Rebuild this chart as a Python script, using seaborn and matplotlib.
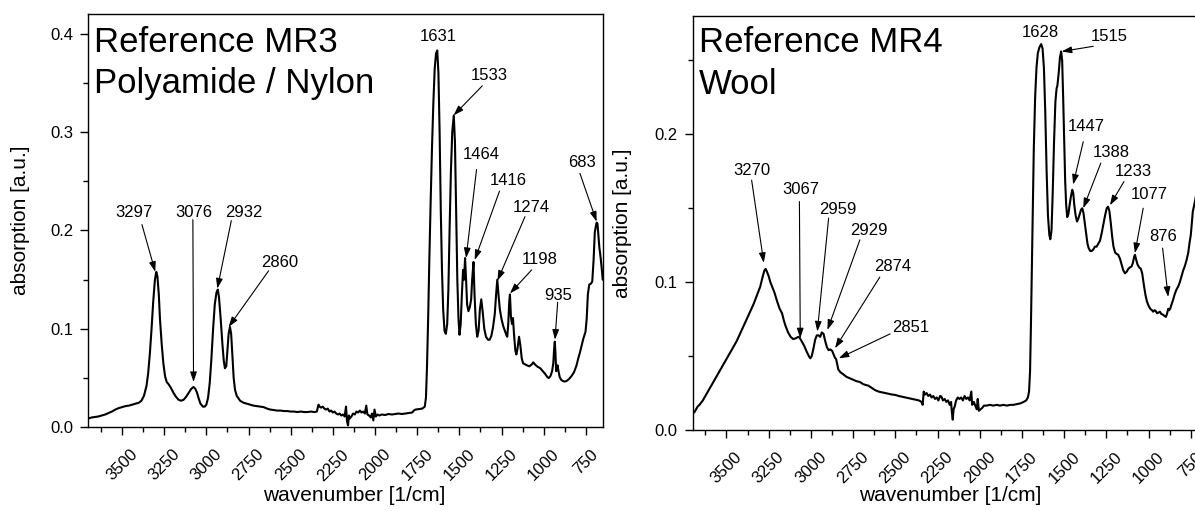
import numpy as np
import pandas as pd
import matplotlib
matplotlib.use("Agg")
import matplotlib.pyplot as plt
import seaborn as sns
from matplotlib.ticker import MultipleLocator

# ---------------- data ----------------
nylon_wn = [3700, 3680, 3660, 3640, 3620, 3600, 3580, 3560, 3540, 3520, 3500, 3480, 3460, 3440, 3420, 3400,
            3385, 3370, 3355, 3345, 3335, 3325, 3315, 3305, 3297, 3290, 3282, 3275, 3265, 3255, 3245, 3235,
            3225, 3210, 3195, 3180, 3165, 3150, 3135, 3120, 3105, 3090, 3076, 3065, 3055, 3045, 3035, 3020,
            3010, 3000, 2990, 2980, 2970, 2960, 2950, 2940, 2932, 2925, 2915, 2905, 2897, 2890, 2882, 2875,
            2868, 2860, 2853, 2845, 2838, 2830, 2820, 2800, 2780, 2760, 2740, 2720, 2700, 2680, 2660, 2640,
            2620, 2600, 2580, 2560, 2540, 2520, 2500, 2480, 2460, 2440, 2420, 2400, 2380, 2360, 2345, 2335,
            2328, 2320, 2310, 2300, 2290, 2280, 2270, 2260, 2250, 2240, 2230, 2220, 2210, 2200, 2190, 2180,
            2172, 2166, 2160, 2155, 2150, 2140, 2130, 2120, 2110, 2100, 2090, 2080, 2070, 2060, 2052, 2045,
            2035, 2025, 2018, 2010, 2003, 1995, 1985, 1975, 1960, 1940, 1920, 1900, 1880, 1860, 1840, 1820,
            1800, 1780, 1770, 1760, 1740, 1720, 1705, 1698, 1692, 1685, 1678, 1670, 1662, 1654, 1646, 1638,
            1631, 1624, 1617, 1610, 1603, 1596, 1588, 1580, 1572, 1565, 1558, 1550, 1542, 1533, 1526, 1519,
            1512, 1505, 1499, 1492, 1485, 1478, 1472, 1466, 1460, 1454, 1446, 1438, 1430, 1424, 1416, 1410,
            1402, 1394, 1386, 1378, 1370, 1362, 1352, 1342, 1330, 1320, 1310, 1300, 1290, 1282, 1275, 1268,
            1260, 1250, 1240, 1230, 1222, 1216, 1210, 1204, 1200, 1194, 1188, 1182, 1176, 1168, 1162, 1155,
            1146, 1138, 1130, 1122, 1110, 1100, 1085, 1070, 1062, 1052, 1040, 1030, 1020, 1005, 990, 978,
            970, 960, 950, 943, 938, 934, 930, 926, 922, 918, 913, 905, 895, 885, 875, 865,
            850, 835, 820, 805, 795, 785, 775, 765, 752, 745, 738, 730, 720, 712, 704, 697,
            690, 686, 681, 676, 670, 662, 655, 650]
nylon_abs = [0.009, 0.010, 0.0105, 0.011, 0.012, 0.013, 0.0145, 0.016, 0.018, 0.0195, 0.0205, 0.0215, 0.022, 0.023, 0.024, 0.025,
             0.027, 0.032, 0.042, 0.055, 0.075, 0.100, 0.128, 0.150, 0.158, 0.153, 0.135, 0.110, 0.085, 0.065, 0.052, 0.046,
             0.044, 0.040, 0.035, 0.031, 0.028, 0.027, 0.028, 0.031, 0.035, 0.039, 0.041, 0.039, 0.035, 0.029, 0.024, 0.021,
             0.021, 0.023, 0.030, 0.045, 0.070, 0.100, 0.125, 0.137, 0.140, 0.132, 0.110, 0.085, 0.068, 0.060, 0.062, 0.078,
             0.095, 0.102, 0.095, 0.070, 0.050, 0.038, 0.032, 0.027, 0.025, 0.024, 0.023, 0.022, 0.0215, 0.021, 0.0205, 0.019,
             0.018, 0.0175, 0.017, 0.017, 0.0165, 0.0165, 0.016, 0.016, 0.0155, 0.016, 0.0155, 0.0155, 0.016, 0.0155, 0.016, 0.023,
             0.021, 0.020, 0.021, 0.019, 0.018, 0.019, 0.016, 0.017, 0.015, 0.016, 0.014, 0.013, 0.014, 0.012, 0.013, 0.011,
             0.021, 0.006, 0.002, 0.012, 0.009, 0.011, 0.014, 0.013, 0.016, 0.015, 0.017, 0.015, 0.016, 0.014, 0.022, 0.013,
             0.012, 0.010, 0.014, 0.007, 0.018, 0.011, 0.013, 0.012, 0.013, 0.0125, 0.0135, 0.013, 0.0135, 0.014, 0.0135, 0.014,
             0.0145, 0.015, 0.017, 0.018, 0.0185, 0.019, 0.021, 0.030, 0.060, 0.110, 0.170, 0.230, 0.285, 0.330, 0.365, 0.380,
             0.383, 0.360, 0.300, 0.220, 0.160, 0.120, 0.098, 0.095, 0.105, 0.140, 0.200, 0.260, 0.300, 0.317, 0.290, 0.220,
             0.150, 0.110, 0.094, 0.105, 0.135, 0.160, 0.150, 0.172, 0.150, 0.125, 0.118, 0.122, 0.130, 0.150, 0.168, 0.135,
             0.105, 0.092, 0.098, 0.120, 0.130, 0.118, 0.100, 0.092, 0.089, 0.089, 0.093, 0.102, 0.115, 0.135, 0.150, 0.135,
             0.120, 0.110, 0.103, 0.098, 0.094, 0.092, 0.105, 0.128, 0.135, 0.112, 0.105, 0.111, 0.095, 0.078, 0.074, 0.080,
             0.092, 0.083, 0.070, 0.065, 0.064, 0.063, 0.062, 0.064, 0.066, 0.064, 0.062, 0.061, 0.060, 0.057, 0.054, 0.051,
             0.050, 0.052, 0.057, 0.065, 0.080, 0.087, 0.075, 0.057, 0.058, 0.063, 0.058, 0.051, 0.048, 0.047, 0.0465, 0.047,
             0.049, 0.052, 0.056, 0.063, 0.070, 0.076, 0.083, 0.090, 0.097, 0.110, 0.135, 0.145, 0.146, 0.148, 0.170, 0.198,
             0.205, 0.208, 0.207, 0.196, 0.183, 0.172, 0.160, 0.150]

wool_wn = [3700, 3690, 3680, 3670, 3660, 3640, 3620, 3600, 3580, 3560, 3540, 3520, 3500, 3480, 3460, 3440,
           3420, 3400, 3380, 3360, 3340, 3320, 3300, 3285, 3275, 3268, 3260, 3250, 3240, 3230, 3216, 3200,
           3185, 3171, 3160, 3149, 3135, 3120, 3105, 3090, 3075, 3067, 3055, 3040, 3025, 3010, 3003, 2995,
           2985, 2975, 2965, 2955, 2945, 2935, 2925, 2915, 2905, 2895, 2885, 2874, 2865, 2858, 2851, 2845,
           2838, 2825, 2812, 2790, 2770, 2750, 2730, 2710, 2690, 2677, 2660, 2640, 2620, 2600, 2580, 2560,
           2540, 2520, 2500, 2480, 2460, 2440, 2420, 2400, 2380, 2360, 2345, 2338, 2332, 2325, 2315, 2305,
           2295, 2285, 2275, 2265, 2255, 2245, 2235, 2227, 2218, 2208, 2198, 2188, 2178, 2170, 2165, 2160,
           2155, 2148, 2140, 2130, 2120, 2110, 2100, 2090, 2080, 2070, 2060, 2050, 2045, 2035, 2025, 2018,
           2012, 2005, 1995, 1985, 1975, 1960, 1940, 1920, 1900, 1880, 1860, 1840, 1820, 1800, 1780, 1760,
           1740, 1725, 1715, 1708, 1702, 1697, 1692, 1686, 1680, 1672, 1664, 1656, 1646, 1636, 1628, 1620,
           1612, 1604, 1596, 1588, 1582, 1575, 1568, 1560, 1552, 1545, 1540, 1532, 1525, 1518, 1512, 1506,
           1500, 1494, 1488, 1482, 1475, 1468, 1460, 1452, 1446, 1440, 1432, 1424, 1416, 1408, 1400, 1393,
           1386, 1378, 1370, 1362, 1355, 1345, 1338, 1328, 1318, 1308, 1298, 1288, 1278, 1268, 1258, 1248,
           1240, 1232, 1224, 1216, 1208, 1198, 1188, 1180, 1170, 1160, 1150, 1140, 1130, 1120, 1110, 1101,
           1093, 1086, 1081, 1075, 1066, 1056, 1046, 1038, 1028, 1018, 1010, 1000, 990, 980, 973, 965,
           958, 950, 940, 933, 925, 915, 905, 897, 890, 884, 878, 872, 864, 855, 845, 835,
           825, 815, 805, 795, 785, 775, 765, 757, 750, 744, 738, 730, 720, 710, 700, 690,
           680, 670, 660, 650]
wool_abs = [0.0115, 0.012, 0.014, 0.016, 0.017, 0.020, 0.024, 0.028, 0.032, 0.036, 0.040, 0.044, 0.048, 0.052, 0.056, 0.060,
            0.065, 0.070, 0.075, 0.080, 0.085, 0.091, 0.097, 0.104, 0.108, 0.109, 0.107, 0.104, 0.100, 0.097, 0.093, 0.087,
            0.082, 0.079, 0.074, 0.070, 0.066, 0.063, 0.0615, 0.062, 0.063, 0.0625, 0.060, 0.057, 0.053, 0.0495, 0.0485, 0.050,
            0.055, 0.061, 0.064, 0.064, 0.063, 0.066, 0.065, 0.060, 0.056, 0.054, 0.0545, 0.0535, 0.051, 0.049, 0.048, 0.045,
            0.041, 0.039, 0.038, 0.036, 0.035, 0.034, 0.033, 0.0325, 0.031, 0.0305, 0.030, 0.0285, 0.027, 0.026, 0.0255, 0.025,
            0.0245, 0.024, 0.0237, 0.023, 0.0225, 0.022, 0.0215, 0.021, 0.0205, 0.020, 0.019, 0.017, 0.026, 0.024, 0.025, 0.023,
            0.024, 0.022, 0.023, 0.021, 0.022, 0.020, 0.023, 0.0226, 0.020, 0.021, 0.019, 0.020, 0.017, 0.019, 0.012, 0.007,
            0.014, 0.016, 0.020, 0.022, 0.021, 0.022, 0.020, 0.023, 0.021, 0.022, 0.020, 0.026, 0.017, 0.019, 0.016, 0.014,
            0.021, 0.013, 0.014, 0.015, 0.0165, 0.0165, 0.017, 0.0165, 0.017, 0.0165, 0.017, 0.0165, 0.017, 0.017, 0.0175, 0.018,
            0.019, 0.020, 0.022, 0.026, 0.040, 0.070, 0.105, 0.150, 0.190, 0.225, 0.245, 0.255, 0.259, 0.261, 0.258, 0.245,
            0.215, 0.175, 0.145, 0.132, 0.129, 0.135, 0.160, 0.195, 0.222, 0.231, 0.233, 0.242, 0.252, 0.256, 0.250, 0.225,
            0.195, 0.168, 0.152, 0.144, 0.146, 0.152, 0.158, 0.1625, 0.160, 0.152, 0.145, 0.141, 0.143, 0.146, 0.149, 0.150,
            0.147, 0.140, 0.133, 0.126, 0.123, 0.121, 0.121, 0.122, 0.124, 0.124, 0.126, 0.128, 0.133, 0.139, 0.145, 0.150,
            0.151, 0.148, 0.140, 0.131, 0.124, 0.120, 0.119, 0.1185, 0.116, 0.112, 0.108, 0.106, 0.107, 0.109, 0.110, 0.1106,
            0.113, 0.117, 0.1185, 0.116, 0.112, 0.110, 0.109, 0.106, 0.098, 0.091, 0.087, 0.084, 0.082, 0.081, 0.080, 0.081,
            0.0805, 0.079, 0.0795, 0.080, 0.0785, 0.078, 0.077, 0.0765, 0.079, 0.082, 0.081, 0.082, 0.085, 0.088, 0.092, 0.095,
            0.097, 0.100, 0.104, 0.108, 0.111, 0.115, 0.120, 0.127, 0.132, 0.140, 0.148, 0.152, 0.158, 0.165, 0.170, 0.175,
            0.178, 0.180, 0.181, 0.181]

# peak labels: text, arrow tip (wavenumber, absorption)
nylon_peaks = ["1631", "1533", "1464", "1416", "1274", "1198", "935", "683", "3297", "3076", "2932", "2860"]
nylon_tip_wn = [None, 1534, 1460, 1409, 1274, 1200, 933, 686, 3303, 3076, 2935, 2868]
nylon_tip_abs = [None, 0.317, 0.172, 0.170, 0.149, 0.136, 0.089, 0.209, 0.158, 0.046, 0.141, 0.102]

wool_peaks = ["1628", "1515", "1447", "1388", "1233", "1077", "876", "3270", "3067", "2959", "2929", "2874", "2851"]
wool_tip_wn = [None, 1515, 1447, 1387, 1229, 1081, 884, 3279, 3063, 2962, 2902, 2857, 2835]
wool_tip_abs = [None, 0.256, 0.166, 0.150, 0.152, 0.1196, 0.090, 0.113, 0.062, 0.0666, 0.0677, 0.0553, 0.0485]

# ---------------- layout (label centres and arrow tails) ----------------
nylon_label_xy = [(1625, 0.397), (1324, 0.357), (1369, 0.277), (1210, 0.2506), (1074, 0.2238), (1022, 0.171),
                  (913, 0.1336), (775, 0.2686), (3427, 0.218), (3076, 0.218), (2778, 0.218), (2568, 0.1675)]
nylon_tail_xy = [None, (1364, 0.347), (1398, 0.262), (1262, 0.240), (1111, 0.214), (1071, 0.160),
                 (917, 0.127), (785, 0.258), (3382, 0.206), (3080, 0.211), (2852, 0.210), (2631, 0.159)]
wool_label_xy = [(1643, 0.269), (1233, 0.266), (1371, 0.205), (1219, 0.188), (1091, 0.175), (998, 0.159),
                 (913, 0.131), (3351, 0.1756), (3059, 0.1625), (2839, 0.149), (2659, 0.135), (2515, 0.1106),
                 (2407, 0.0695)]
wool_tail_xy = [None, (1328, 0.2595), (1387, 0.195), (1283, 0.1805), (1146, 0.168), (1032, 0.150),
                (917, 0.123), (3351, 0.169), (3068, 0.1545), (2895, 0.1433), (2710, 0.1286), (2592, 0.1034),
                (2531, 0.065)]

# ---------------- plotting ----------------
sns.set_style("ticks")
plt.rcParams["font.family"] = ["Liberation Sans", "DejaVu Sans"]
plt.rcParams["axes.edgecolor"] = "black"
plt.rcParams["xtick.color"] = "black"
plt.rcParams["ytick.color"] = "black"
plt.rcParams["text.color"] = "black"
plt.rcParams["axes.labelcolor"] = "black"

W, H = 1195, 511
fig = plt.figure(figsize=(W / 100, H / 100), dpi=100)
ax1 = fig.add_axes([88.3 / W, 1 - 427.3 / H, 514.4 / W, 413.3 / H])
ax2 = fig.add_axes([692.7 / W, 1 - 430 / H, 515 / W, 414 / H])

df1 = pd.DataFrame({"wn": nylon_wn, "abs": nylon_abs})
df2 = pd.DataFrame({"wn": wool_wn, "abs": wool_abs})
sns.lineplot(data=df1, x="wn", y="abs", ax=ax1, color="black", lw=1.5, sort=False, estimator=None)
sns.lineplot(data=df2, x="wn", y="abs", ax=ax2, color="black", lw=1.5, sort=False, estimator=None)

ax1.set_ylim(0, 0.42)
ax2.set_ylim(0, 0.28)

arrow_kw = dict(arrowstyle="-|>,head_length=0.6,head_width=0.2", color="black", lw=0.8,
                shrinkA=0, shrinkB=0, mutation_scale=10)

def annotate(ax, names, tip_wn, tip_abs, label_xy, tail_xy):
    for name, tw, ta, lxy, txy in zip(names, tip_wn, tip_abs, label_xy, tail_xy):
        ax.text(lxy[0], lxy[1], name, ha="center", va="center", fontsize=12)
        if tw is not None:
            ax.annotate("", xy=(tw, ta), xytext=txy, arrowprops=arrow_kw)

annotate(ax1, nylon_peaks, nylon_tip_wn, nylon_tip_abs, nylon_label_xy, nylon_tail_xy)
annotate(ax2, wool_peaks, wool_tip_wn, wool_tip_abs, wool_label_xy, wool_tail_xy)

for ax in (ax1, ax2):
    ax.set_xlim(3700, 650)
    ax.xaxis.set_major_locator(MultipleLocator(250))
    ax.xaxis.set_minor_locator(MultipleLocator(125))
    ax.yaxis.set_major_locator(MultipleLocator(0.1))
    ax.yaxis.set_minor_locator(MultipleLocator(0.05))
    ax.tick_params(which="major", direction="out", length=6, width=1.0, labelsize=12,
                   top=False, right=False)
    ax.tick_params(which="minor", direction="out", length=3.5, width=1.0, top=False, right=False)
    ax.tick_params(axis="x", which="major", labelrotation=45, pad=8)
    ax.tick_params(axis="y", which="major", pad=5)
    for s in ax.spines.values():
        s.set_linewidth(1.0)
        s.set_color("black")
    ax.set_xlabel("wavenumber [1/cm]", fontsize=15)
    ax.set_ylabel("absorption [a.u.]", fontsize=15)

ax1.xaxis.set_label_coords(0.517, -0.143)
ax2.xaxis.set_label_coords(0.5, -0.136)
ax1.yaxis.set_label_coords(-0.113, 0.5)
ax2.yaxis.set_label_coords(-0.118, 0.5)

ax1.text(0.012, 0.9088, "Reference MR3", transform=ax1.transAxes, fontsize=25, ha="left", va="baseline")
ax1.text(0.012, 0.808, "Polyamide / Nylon", transform=ax1.transAxes, fontsize=25, ha="left", va="baseline")
ax2.text(0.012, 0.9138, "Reference MR4", transform=ax2.transAxes, fontsize=25, ha="left", va="baseline")
ax2.text(0.012, 0.8116, "Wool", transform=ax2.transAxes, fontsize=25, ha="left", va="baseline")

fig.savefig("out.png", dpi=100)
